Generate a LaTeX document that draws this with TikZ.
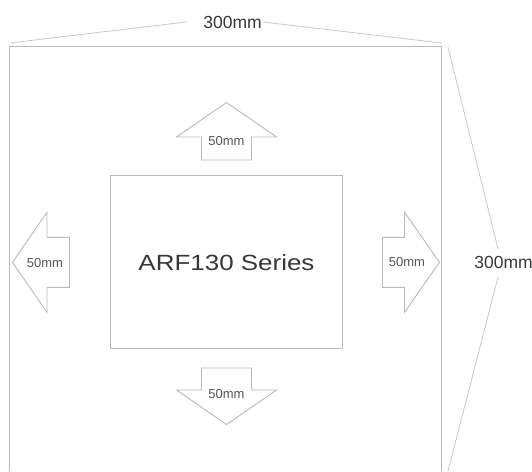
\documentclass[tikz,border=0pt]{standalone}
\usepackage{fontspec}
\setmainfont{Liberation Sans}
\usepackage{tikz}
\usetikzlibrary{calc}
\definecolor{framegray}{RGB}{185,185,185}
\definecolor{dimgray}{RGB}{200,200,200}
\definecolor{labelgray}{RGB}{55,55,55}
\tikzset{
    frame/.style={draw=framegray, line width=1.2pt},
    clearance/.style={draw=framegray, line width=0.9pt, fill=white, line join=miter},
    dimline/.style={draw=dimgray, line width=0.8pt},
    dimlabel/.style={text=labelgray, font=\fontsize{17.5}{17.5}\selectfont, inner sep=1pt},
    gaplabel/.style={text=labelgray!85, font=\fontsize{13}{13}\selectfont, inner sep=0pt},
    unit/.style={draw=framegray, line width=1pt, minimum width=231.6pt, minimum height=173.3pt, inner sep=0pt, text=labelgray, font=\fontsize{22}{22}\selectfont}
}

\begin{document}
\begin{tikzpicture}[x=1pt, y=-1pt]
    \useasboundingbox (0,0) rectangle (532,471);

    % Outer frame (open at the bottom)
    \coordinate (framebl) at (9.5,471);
    \coordinate (frametl) at (9.5,46.5);
    \coordinate (frametr) at (441.5,46.5);
    \coordinate (framebr) at (441.5,471);
    \draw [frame] (framebl) -- (frametl) -- (frametr) -- (framebr);

    % Unit in the middle
    \node [unit] (unit) at (226.5,262.3) {\scalebox{1.18}[1]{ARF130 Series}};

    % Clearance arrows
    \draw [clearance] (201.5,160) -- (201.5,137) -- (176.5,137) -- (226.5,102.5)
        -- (276.5,137) -- (251.5,137) -- (251.5,160) -- cycle;
    \draw [clearance] (201.5,368) -- (201.5,390) -- (176.5,390) -- (226.5,424.5)
        -- (276.5,390) -- (251.5,390) -- (251.5,368) -- cycle;
    \draw [clearance] (382.5,237.3) -- (404.5,237.3) -- (404.5,212.3) -- (439.5,262.3)
        -- (404.5,312.3) -- (404.5,287.3) -- (382.5,287.3) -- cycle;
    \draw [clearance] (69.5,237.3) -- (47,237.3) -- (47,212.3) -- (12.5,262.3)
        -- (47,312.3) -- (47,287.3) -- (69.5,287.3) -- cycle;
    \node [gaplabel] (gaptop) at (226.5,141) {50mm};
    \node [gaplabel] (gapbottom) at (226.5,394) {50mm};
    \node [gaplabel] (gapright) at (407,262.5) {50mm};
    \node [gaplabel] (gapleft) at (45,263) {50mm};

    % Dimensions
    \node [dimlabel] (widthdim) at (232.5,22) {300mm};
    \draw [dimline] (9.5,43) -- ([xshift=-16pt]widthdim.west);
    \draw [dimline] (widthdim.east) -- (441.5,43);
    \node [dimlabel] (depthdim) at (503.5,262.5) {300mm};
    \coordinate (depthtop) at (498,249);
    \coordinate (depthbottom) at (498,277);
    \draw [dimline] (448,47) -- (depthtop);
    \draw [dimline] (depthbottom) -- (448,471);
\end{tikzpicture}
\end{document}
